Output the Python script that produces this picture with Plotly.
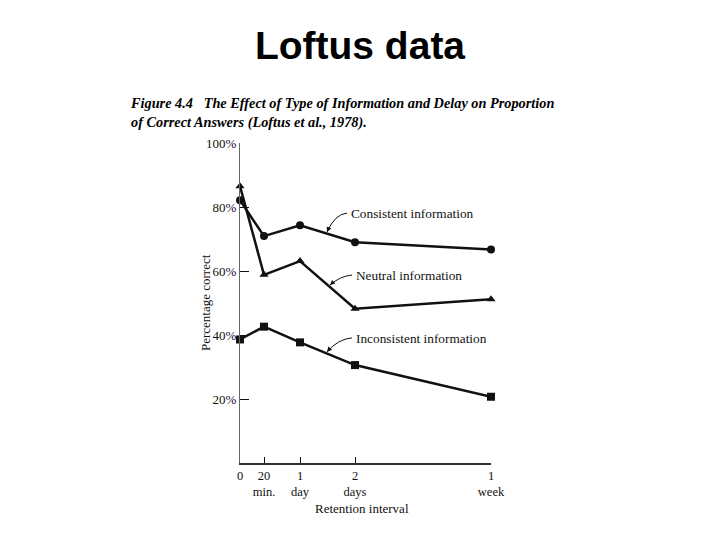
import plotly.graph_objects as go

# Data
interval_labels = ["0", "20<br>min.", "1<br>day", "2<br>days", "1<br>week"]
interval_pos = [0, 24, 60, 115, 251]          # position along the retention-interval axis
consistent = [82.1, 70.9, 74.3, 69.0, 66.7]
neutral = [86.5, 58.8, 63.1, 48.2, 51.2]
inconsistent = [38.6, 42.6, 37.7, 30.6, 20.7]
y_ticks = [20, 40, 60, 80, 100]
y_tick_labels = ["20%", "40%", "60%", "80%", "100%"]

serif = "Liberation Serif"
ink = "#111111"

# page offset (browser body margin) and plot-area geometry in target pixels
OFF = 8
L, R, T, B = 240 - OFF, 491 - OFF, 143 - OFF, 463 - OFF
PW, PH = R - L, B - T


def px(xp):
    return (xp - OFF - L) / PW


def py(yp):
    return (B - (yp - OFF)) / PH


fig = go.Figure()
for name, vals, sym in [("Consistent information", consistent, "circle"),
                        ("Neutral information", neutral, "triangle-up"),
                        ("Inconsistent information", inconsistent, "square")]:
    fig.add_trace(go.Scatter(
        x=interval_pos, y=vals, mode="lines+markers", name=name,
        line=dict(color=ink, width=2.5),
        marker=dict(symbol=sym, size=8, color=ink),
        cliponaxis=False, showlegend=False))

fig.update_layout(
    width=720, height=540,
    margin=dict(l=L, r=720 - R, t=T, b=540 - B, autoexpand=False),
    paper_bgcolor="white", plot_bgcolor="white",
    title=dict(text="<b>Loftus data</b>", x=(360 - OFF) / 720, xanchor="center",
               y=1 - (45 - OFF) / 540, yanchor="middle", yref="container",
               font=dict(family="Liberation Sans", size=39, color="black")),
    xaxis=dict(range=[0, 251], tickvals=interval_pos, ticktext=interval_labels,
               ticks="inside", ticklen=6, tickcolor=ink, tickwidth=1,
               showline=True, linecolor="#333333", linewidth=1.5,
               showgrid=False, zeroline=False, automargin=False,
               tickfont=dict(family=serif, size=12.5, color=ink)),
    yaxis=dict(range=[0, 100], tickvals=y_ticks, ticktext=y_tick_labels,
               ticks="inside", ticklen=9, tickcolor=ink, tickwidth=1,
               showline=True, linecolor="#666666", linewidth=1,
               showgrid=False, zeroline=False, automargin=False,
               tickfont=dict(family=serif, size=13, color=ink)),
)

ann = []
ann.append(dict(xref="paper", yref="paper", x=px(128), y=py(113.5),
                xanchor="left", yanchor="middle", align="left", showarrow=False,
                text="<b><i>Figure 4.4   The Effect of Type of Information and Delay on Proportion<br>"
                     "of Correct Answers (Loftus et al., 1978).</i></b>",
                font=dict(family=serif, size=14.3, color="black")))
# axis titles
ann.append(dict(xref="paper", yref="paper", x=px(205), y=py(303),
                xanchor="center", yanchor="middle", textangle=-90, showarrow=False,
                text="Percentage correct", font=dict(family=serif, size=13, color=ink)))
ann.append(dict(xref="paper", yref="paper", x=px(362), y=py(508),
                xanchor="center", yanchor="middle", showarrow=False,
                text="Retention interval", font=dict(family=serif, size=13, color=ink)))

# series labels with curved pointer arrows (tail, control, tip in data units)
labels = [("Consistent information", 109, 78.0, (107, 78.1), (95, 77.8), (87, 72.2)),
          ("Neutral information", 114, 58.7, (112, 58.75), (100, 58.4), (90, 55.6)),
          ("Inconsistent information", 114, 39.0, (112, 39.1), (98, 38.75), (87, 34.7))]
shapes = []
for txt, tx, ty, tail, ctrl, tip in labels:
    ann.append(dict(x=tx, y=ty, xref="x", yref="y", xanchor="left", yanchor="middle",
                    showarrow=False, text=txt, font=dict(family=serif, size=13.3, color=ink)))
    shapes.append(dict(type="path", xref="x", yref="y",
                       path=f"M {tail[0]},{tail[1]} Q {ctrl[0]},{ctrl[1]} {tip[0]},{tip[1]}",
                       line=dict(color=ink, width=1)))
    bx = tip[0] + 0.35 * (ctrl[0] - tip[0])
    by = tip[1] + 0.35 * (ctrl[1] - tip[1])
    ann.append(dict(x=tip[0], y=tip[1], xref="x", yref="y", ax=bx, ay=by,
                    axref="x", ayref="y", text="", showarrow=True, arrowhead=2,
                    arrowsize=1, arrowwidth=1, arrowcolor=ink))
fig.update_layout(annotations=ann, shapes=shapes)

fig.write_html("out.html")
